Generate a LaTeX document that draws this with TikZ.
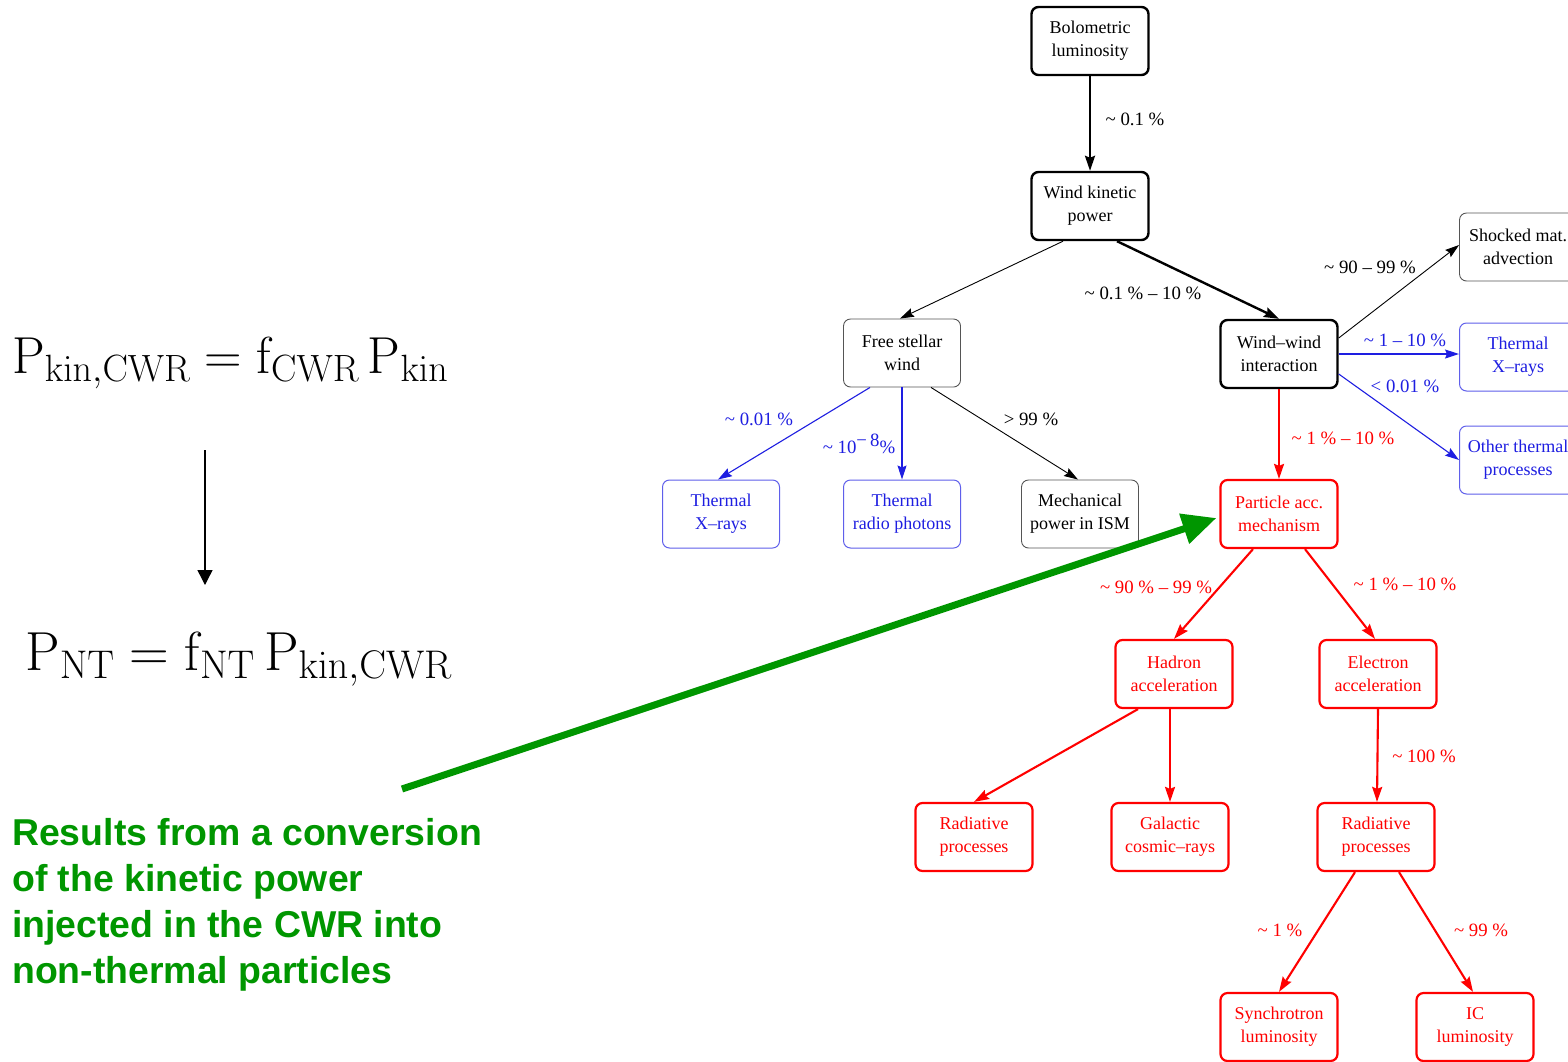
\RequirePackage{fix-cm}
\documentclass[tikz,border=0pt]{standalone}
\usepackage[no-math]{fontspec}
\setmainfont{Liberation Serif}
\newfontfamily\notesans{Liberation Sans}
\usetikzlibrary{arrows.meta}
\DeclareMathSizes{52}{52}{38}{27}
\DeclareMathSizes{55}{55}{40}{28}
\definecolor{nodeblue}{RGB}{30,30,225}
\definecolor{boxblue}{RGB}{95,95,235}
\definecolor{boxgray}{RGB}{85,85,85}
\definecolor{notegreen}{RGB}{0,150,0}
\begin{document}
\begin{tikzpicture}[x=1pt,y=-1pt,
  box/.style={rectangle, rounded corners=7pt, minimum width=117pt, minimum height=68pt,
    inner sep=2pt, align=center, font=\fontsize{18}{23}\selectfont},
  blackbox/.style={box, draw=black, line width=2.4pt},
  graybox/.style={box, draw=boxgray, line width=0.9pt},
  bluebox/.style={box, draw=boxblue, line width=1pt, text=nodeblue},
  redbox/.style={box, draw=red, line width=2.2pt, text=red},
  lbl/.style={font=\fontsize{18.8}{22}\selectfont, inner sep=0pt},
  tipA/.style={-{Stealth[length=15pt,width=10pt,inset=2pt]}},
  tipB/.style={-{Stealth[length=14pt,width=9pt,inset=2pt]}},
  heavy/.style={tipA, line width=2.4pt, black},
  light/.style={tipB, line width=0.9pt, black},
  bluelink/.style={tipB, line width=1.1pt, nodeblue},
  redlink/.style={tipA, line width=2.1pt, red}]

\useasboundingbox (0,0) rectangle (1568,1061);
\fill[white] (0,0) rectangle (1568,1061);

% ---------- energy budget tree ----------
\node[blackbox] (bol) at (1090,41)  {Bolometric\\luminosity};
\node[blackbox] (wk)  at (1090,206) {Wind kinetic\\power};
\node[graybox]  (fsw) at (902,353)  {Free stellar\\wind};
\node[blackbox] (ww)  at (1279,354) {Wind--wind\\interaction};
\node[graybox]  (sma) at (1518,247) {Shocked mat.\\advection};
\node[bluebox]  (txr) at (1518,357) {Thermal\\X--rays};
\node[bluebox]  (otp) at (1518,460) {Other thermal\\processes};
\node[bluebox]  (txl) at (721,514)  {Thermal\\X--rays};
\node[bluebox]  (trp) at (902,514)  {Thermal\\radio photons};
\node[graybox]  (mis) at (1080,514) {Mechanical\\power in ISM};
\node[redbox]   (pam) at (1279,514) {Particle acc.\\mechanism};
\node[redbox]   (had) at (1174,674) {Hadron\\acceleration};
\node[redbox]   (ele) at (1378,674) {Electron\\acceleration};
\node[redbox]   (rpl) at (974,837)  {Radiative\\processes};
\node[redbox]   (gcr) at (1170,837) {Galactic\\cosmic--rays};
\node[redbox]   (rpr) at (1376,837) {Radiative\\processes};
\node[redbox]   (syn) at (1279,1027) {Synchrotron\\luminosity};
\node[redbox]   (icl) at (1475,1027) {IC\\luminosity};

% connectors (xshift/yshift act on the page: positive yshift is upward)
\draw[heavy] (bol.south) -- (wk.north);
\draw[light] ([xshift=-27pt]wk.south) -- ([xshift=-2pt]fsw.north);
\draw[heavy] ([xshift=27pt]wk.south) -- (ww.north);
\draw[bluelink] ([xshift=-32pt]fsw.south) -- ([xshift=-3pt]txl.north);
\draw[bluelink] (fsw.south) -- (trp.north);
\draw[light] ([xshift=29pt]fsw.south) -- ([xshift=-2pt]mis.north);
\draw[light] ([yshift=16pt]ww.east) -- ([yshift=2pt]sma.west);
\draw[bluelink] (ww.east) -- (ww.east -| txr.west);
\draw[bluelink] ([yshift=-20pt]ww.east) -- (otp.west);
\draw[redlink] (ww.south) -- (pam.north);
\draw[redlink] ([xshift=-26pt]pam.south) -- (had.north);
\draw[redlink] ([xshift=26pt]pam.south) -- ([xshift=-3pt]ele.north);
\draw[redlink] ([xshift=-36pt]had.south) -- (rpl.north);
\draw[redlink] ([xshift=-4pt]had.south) -- (gcr.north);
\draw[redlink] (ele.south) -- ([xshift=1pt]rpr.north);
\draw[redlink] ([xshift=-21pt]rpr.south) -- (syn.north);
\draw[redlink] ([xshift=23pt]rpr.south) -- ([xshift=-2pt]icl.north);

% fractions on the connectors
\node[lbl] (l1)  at (1135,119) {\textasciitilde{} 0.1 \%};
\node[lbl] (l2)  at (1143,293) {\textasciitilde{} 0.1 \% – 10 \%};
\node[lbl, text=nodeblue] (l3) at (759,419) {\textasciitilde{} 0.01 \%};
\node[lbl, text=nodeblue] (l4) at (859,444) {\textasciitilde{} 10\raisebox{7pt}{−\,8}\%};
\node[lbl] (l5)  at (1031,419) {> 99 \%};
\node[lbl] (l6)  at (1370,267) {\textasciitilde{} 90 – 99 \%};
\node[lbl, text=nodeblue] (l7) at (1405,340) {\textasciitilde{} 1 – 10 \%};
\node[lbl, text=nodeblue] (l8) at (1405,386) {< 0.01 \%};
\node[lbl, text=red] (l9)  at (1343,438) {\textasciitilde{} 1 \% – 10 \%};
\node[lbl, text=red] (l10) at (1156,587) {\textasciitilde{} 90 \% – 99 \%};
\node[lbl, text=red] (l11) at (1405,584) {\textasciitilde{} 1 \% – 10 \%};
\node[lbl, text=red] (l12) at (1424,756) {\textasciitilde{} 100 \%};
\node[lbl, text=red] (l13) at (1280,930) {\textasciitilde{} 1 \%};
\node[lbl, text=red] (l14) at (1481,930) {\textasciitilde{} 99 \%};

% ---------- power relations ----------
\node[anchor=base west, inner sep=0pt] (eqa) at (12,373)
  {\fontsize{52}{62}\selectfont$\mathrm{P}_{\mathrm{kin,CWR}} = \mathrm{f}_{\mathrm{CWR}}\,\mathrm{P}_{\mathrm{kin}}$};
\node[anchor=base west, inner sep=0pt] (eqb) at (25,670)
  {\fontsize{55}{66}\selectfont$\mathrm{P}_{\mathrm{NT}} = \mathrm{f}_{\mathrm{NT}}\,\mathrm{P}_{\mathrm{kin,CWR}}$};
\coordinate (da) at (205,450);
\coordinate (db) at (205,585);
\draw[line width=1.4pt, -{Triangle[length=15pt,width=15pt]}] (da) -- (db);

% ---------- note ----------
\node[anchor=north west, inner sep=0pt, align=left, text=notegreen,
      font=\notesans\bfseries\fontsize{37.4}{46}\selectfont] (note) at (12,818)
  {Results from a conversion\\of the kinetic power\\injected in the CWR into\\non-thermal particles};
\coordinate (gs) at (402,789);
\draw[notegreen, line width=7pt, -{Triangle[length=34pt,width=30pt]}]
  (gs) -- ([shift={(-3pt,-4pt)}]pam.west);
\end{tikzpicture}
\end{document}
